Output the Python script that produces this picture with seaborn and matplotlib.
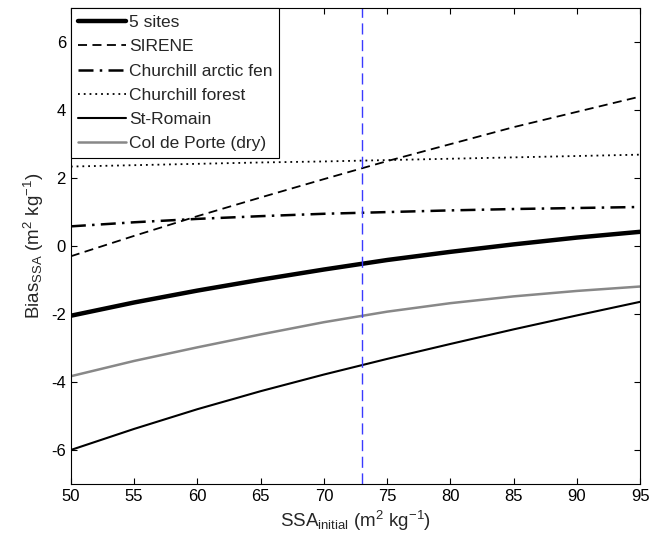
import numpy as np
import pandas as pd
import seaborn as sns
import matplotlib
matplotlib.use('Agg')
import matplotlib.pyplot as plt

# values
ssa = [50, 55, 60, 65, 70, 75, 80, 85, 90, 95]
five_sites = [-2.05, -1.66, -1.31, -0.99, -0.69, -0.41, -0.17, 0.05, 0.25, 0.42]
sirene = [-0.3, 0.3, 0.88, 1.43, 1.97, 2.5, 3.0, 3.5, 3.95, 4.4]
arctic_fen = [0.58, 0.7, 0.8, 0.88, 0.95, 1.0, 1.05, 1.09, 1.12, 1.15]
forest = [2.34, 2.38, 2.42, 2.46, 2.49, 2.53, 2.57, 2.61, 2.65, 2.69]
st_romain = [-6.0, -5.38, -4.8, -4.27, -3.78, -3.32, -2.88, -2.45, -2.04, -1.64]
col_de_porte = [-3.83, -3.38, -2.98, -2.6, -2.24, -1.93, -1.68, -1.48, -1.32, -1.19]
ssa_ref = 73

labels = ['5 sites', 'SIRENE', 'Churchill arctic fen', 'Churchill forest',
          'St-Romain', 'Col de Porte (dry)']
series = [five_sites, sirene, arctic_fen, forest, st_romain, col_de_porte]

sns.set_style('ticks')
plt.rcParams['font.family'] = ['Liberation Sans', 'DejaVu Sans']
plt.rcParams['mathtext.fontset'] = 'custom'
plt.rcParams['mathtext.rm'] = 'Liberation Sans'
plt.rcParams['mathtext.it'] = 'Liberation Sans:italic'
plt.rcParams['axes.unicode_minus'] = False

fig = plt.figure(figsize=(6.5, 5.45), dpi=100)
ax = fig.add_axes([0.109, 0.112, 0.876, 0.873])

# line styles per series
styles = [
    dict(color='black', lw=3.2, dashes=None),
    dict(color='black', lw=1.3, dashes=(5, 3)),
    dict(color='black', lw=1.8, dashes=(6, 2.5, 1, 2.5)),
    dict(color='black', lw=1.3, dashes=(1, 2.2)),
    dict(color='black', lw=1.5, dashes=None),
    dict(color='#888888', lw=1.8, dashes=None),
]

for lab, vals, st in zip(labels, series, styles):
    df = pd.DataFrame({'ssa': ssa, 'bias': vals})
    sns.lineplot(data=df, x='ssa', y='bias', ax=ax, color=st['color'],
                 linewidth=st['lw'], label=lab)
    if st['dashes'] is not None:
        ax.lines[-1].set_dashes(st['dashes'])

ax.axvline(ssa_ref, color='#3a3aff', lw=1.0, dashes=(8, 4))

ax.set_xlim(50, 95)
ax.set_ylim(-7, 7)
ax.set_xticks(range(50, 96, 5))
ax.set_yticks(range(-6, 7, 2))
ax.tick_params(direction='in', length=4, width=0.8, labelsize=12,
               top=True, right=True, colors='black')
for sp in ax.spines.values():
    sp.set_linewidth(0.8)
    sp.set_color('black')

ax.set_xlabel(r'SSA$_{\mathrm{initial}}$ (m$^2$ kg$^{-1}$)', fontsize=13.5)
ax.set_ylabel(r'Bias$_{\mathrm{SSA}}$ (m$^2$ kg$^{-1}$)', fontsize=13.5)

leg = ax.legend(loc='upper left', borderaxespad=0, fancybox=False,
                edgecolor='black', framealpha=1, fontsize=12.5,
                handlelength=2.8, handletextpad=0.15, labelspacing=0.52,
                borderpad=0.4)
leg.get_frame().set_linewidth(0.8)

fig.savefig('out.png', dpi=100)
